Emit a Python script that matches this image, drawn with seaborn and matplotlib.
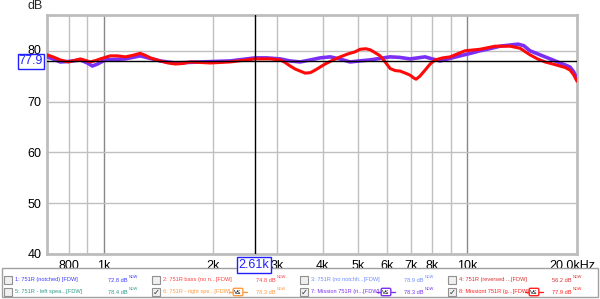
import numpy as np
import pandas as pd
import matplotlib
matplotlib.use("Agg")
import matplotlib.pyplot as plt
import matplotlib.transforms as mtransforms
from matplotlib.patches import Rectangle
import seaborn as sns

# ---- data ----
red_freq = [698, 730, 758, 798, 830, 861, 890, 917, 950, 977, 1008, 1041, 1090, 1144,
            1200, 1258, 1300, 1341, 1428, 1500, 1571, 1650, 1727, 1840,
            1961, 2226, 2607, 2867, 3054, 3150, 3254, 3360, 3467, 3578, 3700, 3812,
            3935, 4061, 4250, 4466, 4700, 4912, 5070, 5250, 5401, 5580, 5754, 5939,
            6131, 6331, 6531, 6750, 6958, 7100, 7226, 7400, 7651, 7900, 8151, 8550,
            8964, 9400, 9856, 10837, 11920, 13110, 13960, 14870, 15600, 16360, 17180,
            17980, 18600, 19160, 19600, 20030]
red_db = [79.2, 78.7, 78.2, 77.8, 78.1, 78.4, 78.1, 77.8, 78.1, 78.4, 78.7, 79.0, 79.0, 78.8,
          79.1, 79.5, 79.1, 78.6, 78.0, 77.6, 77.4, 77.5, 77.8, 77.7,
          77.6, 77.8, 78.4, 78.4, 78.2, 77.7, 77.0, 76.4, 76.0, 75.6, 75.7, 76.2,
          76.8, 77.4, 78.1, 78.8, 79.4, 79.8, 80.3, 80.4, 80.2, 79.6, 79.0, 77.8,
          76.5, 76.1, 76.0, 75.6, 75.2, 74.7, 74.4, 75.0, 76.2, 77.4, 78.2, 78.6,
          78.8, 79.4, 80.0, 80.3, 80.9, 80.9, 80.5, 79.2, 78.4, 77.8, 77.4,
          77.0, 76.7, 76.2, 75.3, 74.0]

purple_freq = [698, 730, 758, 800, 861, 900, 929, 960, 1008, 1070, 1144, 1200, 1258, 1340,
               1428, 1571, 1840, 2226, 2607, 2800, 3054, 3250, 3467, 3700, 3935, 4192,
               4450, 4758, 5050, 5401, 5750, 6131, 6500, 6958, 7300, 7651, 8000, 8414,
               8950, 9549, 10200, 10837, 11500, 12300, 13000, 13790, 14300, 14870, 15600,
               16360, 17180, 17980, 18600, 19160, 19600, 20030]
purple_db = [78.8, 78.3, 77.8, 77.9, 78.2, 77.6, 77.0, 77.4, 78.2, 78.3, 78.4, 78.7, 79.0, 78.5,
             78.0, 77.6, 77.8, 78.0, 78.6, 78.6, 78.4, 78.0, 77.8, 78.2, 78.6, 78.8,
             78.4, 77.8, 78.0, 78.2, 78.5, 78.8, 78.7, 78.4, 78.6, 78.8, 78.4, 78.0,
             78.5, 79.0, 79.5, 80.0, 80.4, 80.9, 81.1, 81.3, 81.0, 80.0, 79.4,
             78.8, 78.2, 77.6, 77.2, 76.8, 75.9, 74.4]

x_ticks = [800, 1000, 2000, 3000, 4000, 5000, 6000, 7000, 8000, 10000, 20000]
x_tick_labels = ["800", "1k", "2k", "3k", "4k", "5k", "6k", "7k", "8k", "10k", "20.0kHz"]
x_grid = [800, 900, 1000, 2000, 3000, 4000, 5000, 6000, 7000, 8000, 9000, 10000]
y_ticks = [40, 50, 60, 70, 80]

cursor_freq = 2610
cursor_db = 77.9

legend_labels = ["1: 751R (notched) [FDW]", "2: 751R bass (no n...[FDW]",
                 "3: 751R (no notchfi...[FDW]", "4: 751R (reversed ...[FDW]",
                 "5: 751R - left spea...[FDW]", "6: 751R - right spe...[FDW]",
                 "7: Mission 751R (ri...[FDW]", "8: Missiont 751R (g...[FDW]"]
legend_values = ["72.8 dB", "74.8 dB", "78.9 dB", "56.2 dB",
                 "78.4 dB", "78.3 dB", "78.3 dB", "77.9 dB"]
legend_colors = ["#3a3aff", "#ff4040", "#6d8cff", "#d83030",
                 "#2f9a8a", "#ff9a40", "#7a30f0", "#ff2020"]
legend_checked = [False, False, False, False, False, True, True, True]

# ---- figure ----
sns.set_style("white")
plt.rcParams["font.family"] = ["Liberation Sans", "DejaVu Sans"]

fig = plt.figure(figsize=(6.0, 2.99), dpi=100)
W, H = 600, 299
ax = fig.add_axes([47 / W, (H - 254) / H, 530 / W, (254 - 14.7) / H])

df = pd.concat([
    pd.DataFrame({"freq": purple_freq, "db": purple_db, "series": "purple"}),
    pd.DataFrame({"freq": red_freq, "db": red_db, "series": "red"}),
])
sns.lineplot(data=df, x="freq", y="db", hue="series",
             palette={"purple": "#7b2ff5", "red": "#ff0a0a"},
             hue_order=["purple", "red"], sort=False, estimator=None,
             ax=ax, legend=False, linewidth=2.2, zorder=5)
lines = ax.get_lines()
if len(lines) >= 2:
    lines[0].set_linewidth(2.6)
for ln in lines:
    ln.set_solid_joinstyle("round")
    ln.set_solid_capstyle("round")

ax.set_xscale("log")
ax.set_xlim(697, 20030)
ax.set_ylim(40, 87.1)
ax.minorticks_off()

for g in x_grid:
    col = "#888888" if g in (1000, 10000) else "#c0c0c0"
    ax.axvline(g, color=col, lw=1, zorder=1)
for g in y_ticks:
    ax.axhline(g, color="#c0c0c0", lw=1, zorder=1)

ax.axvline(cursor_freq, color="black", lw=1, zorder=6)
ax.axhline(cursor_db, color="black", lw=1, zorder=6)

ax.set_xticks(x_ticks)
ax.set_xticklabels(x_tick_labels)
ax.set_yticks(y_ticks)
ax.set_yticklabels([str(v) for v in y_ticks])
ax.tick_params(axis="both", length=0, labelsize=9, colors="black")
ax.tick_params(axis="x", pad=4)
ax.tick_params(axis="y", pad=4)
ax.set_xlabel("")
ax.set_ylabel("")

# shift the last x label a bit left, like the reference
last = ax.get_xticklabels()[-1]
last.set_transform(last.get_transform() + mtransforms.ScaledTranslation(-4 / 100, 0, fig.dpi_scale_trans))
# nudge the "80" label up slightly so it clears the cursor box
lab80 = ax.get_yticklabels()[-1]
lab80.set_transform(lab80.get_transform() + mtransforms.ScaledTranslation(0, 1.5 / 100, fig.dpi_scale_trans))

for s in ax.spines.values():
    s.set_color("#bdbdbd")
    s.set_linewidth(2)

fig.text(27 / W, 1 - 6 / H, "dB", fontsize=9, ha="left", va="center")

# cursor value boxes
fig.text(31 / W, 1 - 61.5 / H, "77.9", fontsize=9, color="#2020ff", ha="center", va="center",
         bbox=dict(boxstyle="square,pad=0.1", fc="white", ec="#2020ff", lw=1))
fig.text(254 / W, 1 - 265 / H, "2.61k", fontsize=9, color="#2020ff", ha="center", va="center",
         bbox=dict(boxstyle="square,pad=0.15", fc="white", ec="#2020ff", lw=1))

# legend panel
fig.patches.append(Rectangle((2 / W, (H - 297) / H), 596 / W, 29 / H, transform=fig.transFigure,
                             fc="white", ec="#a0a0a0", lw=1))
for i, (lab, val, col, chk) in enumerate(zip(legend_labels, legend_values, legend_colors, legend_checked)):
    r, c = divmod(i, 4)
    x0 = 4 + c * 148
    yc = 280 if r == 0 else 292
    fig.patches.append(Rectangle((x0 / W, (H - yc - 4) / H), 8 / W, 8 / H, transform=fig.transFigure,
                                 fc="#f0f0f0", ec="#909090", lw=0.8))
    if chk:
        fig.text((x0 + 4) / W, (H - yc) / H, "\u2713", fontsize=6, ha="center", va="center",
                 color="#333333", family="DejaVu Sans")
    fig.text((x0 + 11) / W, (H - yc) / H, lab, fontsize=4.1, color=col, ha="left", va="center")
    fig.text((x0 + 124) / W, (H - yc) / H, val, fontsize=4.1, color=col, ha="right", va="center")
    fig.text((x0 + 125) / W, (H - yc + 2.5) / H, "NDW", fontsize=2.8, color=col, ha="left", va="center")
    if chk:
        fig.text((x0 + 86) / W, (H - yc) / H, "V\u2264", fontsize=4.3, color="black", ha="center",
                 va="center", bbox=dict(boxstyle="round,pad=0.2", fc="white", ec=col, lw=1))
        fig.add_artist(plt.Line2D([(x0 + 77) / W, (x0 + 81) / W], [(H - yc) / H] * 2, color=col, lw=1))
        fig.add_artist(plt.Line2D([(x0 + 91) / W, (x0 + 95) / W], [(H - yc) / H] * 2, color=col, lw=1))

fig.savefig("out.png", dpi=100)
